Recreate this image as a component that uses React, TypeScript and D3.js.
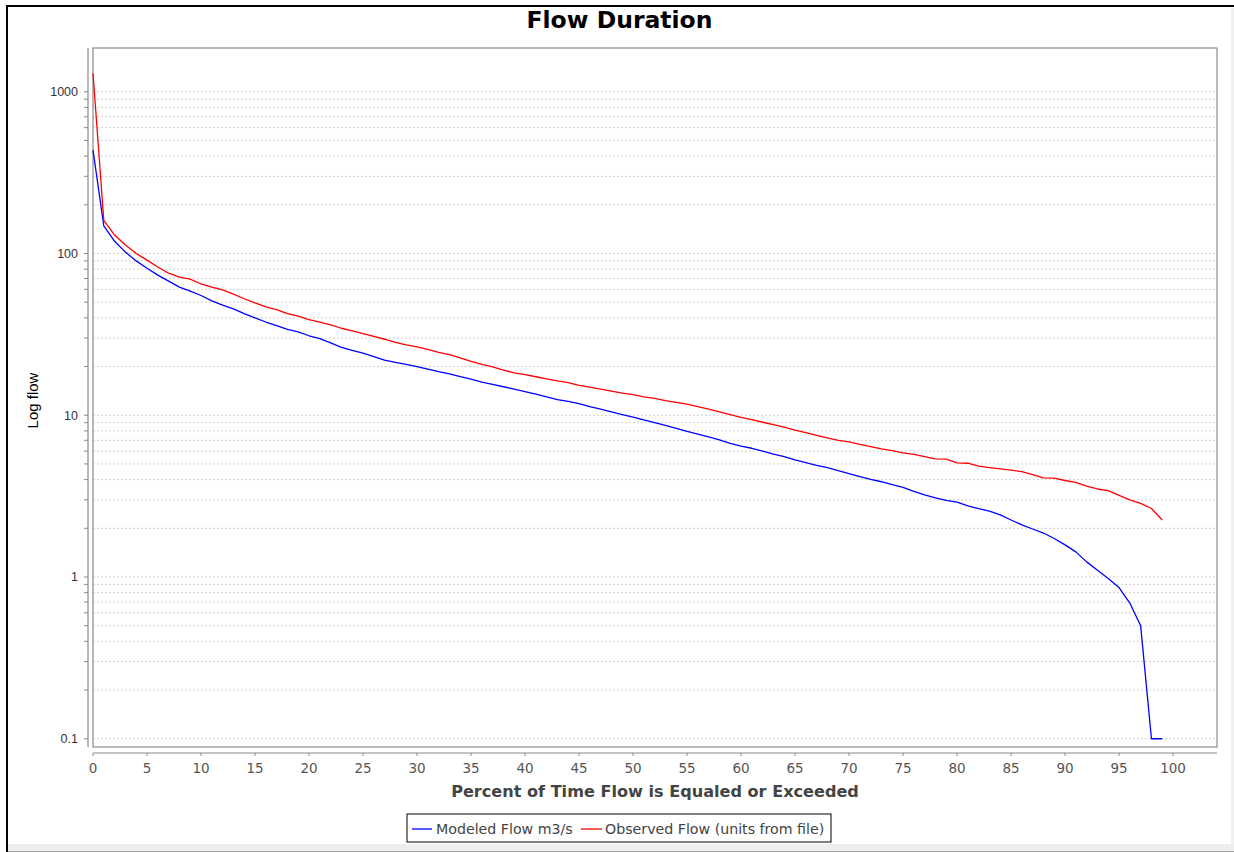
import React from "react";
import * as d3 from "d3";

const percent = [
  0, 1, 2, 3, 4, 5, 6, 7, 8, 9, 10, 11, 12, 13, 14, 15, 16, 17, 18, 19,
  20, 21, 22, 23, 24, 25, 26, 27, 28, 29, 30, 31, 32, 33, 34, 35, 36, 37, 38, 39,
  40, 41, 42, 43, 44, 45, 46, 47, 48, 49, 50, 51, 52, 53, 54, 55, 56, 57, 58, 59,
  60, 61, 62, 63, 64, 65, 66, 67, 68, 69, 70, 71, 72, 73, 74, 75, 76, 77, 78, 79,
  80, 81, 82, 83, 84, 85, 86, 87, 88, 89, 90, 91, 92, 93, 94, 95, 96, 97, 98, 99,
];

const modeledFlow = [
  436, 148, 119, 102, 90, 81, 73.5, 67.5, 62, 58.5,
  55, 51, 48, 45.5, 42.5, 40, 37.7, 35.8, 34, 32.8,
  31, 29.8, 28, 26.3, 25.2, 24.2, 23.0, 21.9, 21.2, 20.6,
  20.0, 19.3, 18.6, 18.0, 17.3, 16.7, 16.0, 15.5, 15.0, 14.5,
  14.0, 13.5, 13.0, 12.5, 12.2, 11.8, 11.3, 10.9, 10.5, 10.1,
  9.75, 9.35, 9.0, 8.65, 8.3, 7.95, 7.65, 7.35, 7.05, 6.7,
  6.45, 6.25, 6.0, 5.75, 5.55, 5.3, 5.1, 4.9, 4.75, 4.55,
  4.35, 4.18, 4.02, 3.88, 3.72, 3.58, 3.38, 3.22, 3.08, 2.98,
  2.9, 2.75, 2.65, 2.55, 2.42, 2.25, 2.1, 1.98, 1.87, 1.73,
  1.58, 1.43, 1.24, 1.1, 0.98, 0.86, 0.69, 0.5, 0.1, 0.1,
];

const observedFlow = [
  1300, 160, 130, 113, 100, 91, 82.5, 75.5, 71.5, 69.5,
  64.8, 62, 59.5, 56, 52.5, 49.5, 46.8, 45, 42.5, 41,
  39, 37.7, 36.2, 34.5, 33.2, 32, 30.7, 29.5, 28.2, 27.2,
  26.5, 25.5, 24.5, 23.7, 22.6, 21.5, 20.6, 19.9, 19.0, 18.3,
  17.8, 17.3, 16.8, 16.3, 15.9, 15.3, 14.9, 14.5, 14.1, 13.7,
  13.4, 13.0, 12.7, 12.3, 12.0, 11.7, 11.3, 10.9, 10.5, 10.1,
  9.7, 9.4, 9.05, 8.75, 8.45, 8.1, 7.8, 7.5, 7.25, 7.0,
  6.85, 6.6, 6.4, 6.2, 6.05, 5.85, 5.72, 5.55, 5.38, 5.35,
  5.08, 5.05, 4.85, 4.75, 4.66, 4.58, 4.48, 4.3, 4.1, 4.08,
  3.95, 3.85, 3.65, 3.5, 3.42, 3.2, 3.0, 2.85, 2.65, 2.25,
];

const xTickValues = [0, 5, 10, 15, 20, 25, 30, 35, 40, 45, 50, 55, 60, 65, 70, 75, 80, 85, 90, 95, 100];
const yLabelValues = [0.1, 1, 10, 100, 1000];
const seriesNames = ["Modeled Flow m3/s", "Observed Flow (units from file)"];
const seriesColors = ["#0000ff", "#ff0000"];

const chartTitle = "Flow Duration";
const xAxisTitle = "Percent of Time Flow is Equaled or Exceeded";
const yAxisTitle = "Log flow";

export default function App() {
  const W = 1234;
  const H = 852;
  const plot = { left: 93, right: 1217, top: 48, bottom: 747 };
  const yAxisX = 88;
  const xAxisY = 753;

  const x = d3.scaleLinear().domain([0, 104.07]).range([plot.left, plot.right]);
  const y = d3.scaleLog().domain([0.0889, 1864]).range([plot.bottom, plot.top]);

  const gridTicks = y.ticks().filter((v) => v >= 0.0999);

  const line = d3
    .line<number>()
    .x((_, i) => x(percent[i]))
    .y((d) => y(d));

  const series = [modeledFlow, observedFlow];
  const fmt = (v: number) => (v < 1 ? String(v) : d3.format("d")(v));
  const isLabel = (v: number) => yLabelValues.some((l) => Math.abs(l - v) / l < 1e-6);

  const legendX = 407;
  const legendY = 814;

  return (
    <svg
      width={W}
      height={H}
      style={{ position: "absolute", left: 0, top: 0, display: "block" }}
    >
      <rect x={0} y={0} width={W} height={H} fill="#ffffff" />
      {/* window frame */}
      <rect x={8} y={844} width={W - 8} height={8} fill="#eeeeee" />
      <line x1={8} x2={W} y1={851.5} y2={851.5} stroke="#a0a0a0" />
      <rect x={1231} y={8} width={3} height={836} fill="#f0f0f0" />
      <line x1={7} x2={7} y1={5} y2={H} stroke="#000" strokeWidth={2} />
      <line x1={6} x2={W} y1={6} y2={6} stroke="#000" strokeWidth={2} />

      {/* title */}
      <text
        x={619.5}
        y={28}
        textAnchor="middle"
        fontFamily="DejaVu Sans"
        fontWeight="bold"
        fontSize={23.5}
        fill="#000"
      >
        {chartTitle}
      </text>

      {/* gridlines */}
      {gridTicks.map((v, i) => (
        <line
          key={"g" + i}
          x1={plot.left}
          x2={plot.right}
          y1={y(v)}
          y2={y(v)}
          stroke="#d0d0d0"
          strokeWidth={1}
          strokeDasharray="2,2"
        />
      ))}

      {/* plot outline */}
      <rect
        x={plot.left}
        y={plot.top}
        width={plot.right - plot.left}
        height={plot.bottom - plot.top}
        fill="none"
        stroke="#8a8a8a"
        strokeWidth={1.2}
      />

      {/* y axis */}
      <line x1={yAxisX} x2={yAxisX} y1={plot.top} y2={plot.bottom} stroke="#8a8a8a" strokeWidth={1.2} />
      {gridTicks.map((v, i) => (
        <line
          key={"yt" + i}
          x1={yAxisX - 4}
          x2={yAxisX}
          y1={y(v)}
          y2={y(v)}
          stroke="#8a8a8a"
          strokeWidth={1}
        />
      ))}
      {gridTicks.filter(isLabel).map((v, i) => (
        <text
          key={"yl" + i}
          x={78}
          y={y(v)}
          dy="0.36em"
          textAnchor="end"
          fontFamily="Liberation Sans"
          fontSize={12.5}
          fill="#333"
        >
          {fmt(v)}
        </text>
      ))}
      <text
        transform={`translate(38,${(plot.top + plot.bottom) / 2 + 3}) rotate(-90)`}
        textAnchor="middle"
        fontFamily="Liberation Sans"
        fontSize={15}
        fill="#000"
      >
        {yAxisTitle}
      </text>

      {/* x axis */}
      <line x1={plot.left} x2={plot.right} y1={xAxisY} y2={xAxisY} stroke="#8a8a8a" strokeWidth={1.2} />
      {xTickValues.map((v) => (
        <g key={"xt" + v}>
          <line x1={x(v)} x2={x(v)} y1={xAxisY} y2={xAxisY + 3} stroke="#8a8a8a" strokeWidth={1} />
          <text
            x={x(v)}
            y={773}
            textAnchor="middle"
            fontFamily="DejaVu Sans"
            fontSize={13.5}
            fill="#555"
          >
            {v}
          </text>
        </g>
      ))}
      <text
        x={(plot.left + plot.right) / 2}
        y={797}
        textAnchor="middle"
        fontFamily="DejaVu Sans"
        fontWeight="bold"
        fontSize={16.1}
        fill="#444"
      >
        {xAxisTitle}
      </text>

      {/* series */}
      {series.map((s, i) => (
        <path
          key={"s" + i}
          d={line(s) || ""}
          fill="none"
          stroke={seriesColors[i]}
          strokeWidth={1.3}
          strokeLinejoin="round"
        />
      ))}

      {/* legend */}
      <rect x={legendX} y={legendY} width={424} height={28} fill="#fff" stroke="#000" strokeWidth={1} />
      <line x1={412} x2={432} y1={829} y2={829} stroke={seriesColors[0]} strokeWidth={1.3} />
      <text x={436} y={834} fontFamily="DejaVu Sans" fontSize={14.2} fill="#444">
        {seriesNames[0]}
      </text>
      <line x1={581} x2={602} y1={829} y2={829} stroke={seriesColors[1]} strokeWidth={1.3} />
      <text x={605} y={834} fontFamily="DejaVu Sans" fontSize={14.2} fill="#444">
        {seriesNames[1]}
      </text>
    </svg>
  );
}
